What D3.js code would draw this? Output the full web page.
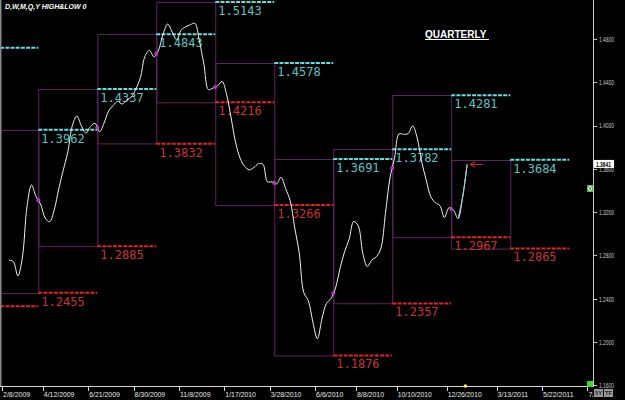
<!DOCTYPE html>
<html>
<head>
<meta charset="utf-8">
<script src="https://cdn.jsdelivr.net/npm/d3@7"></script>
<style>
  body { margin: 0; background: #000; }
  svg { display: block; }
</style>
</head>
<body>
<div id="chart"></div>
<script>
// weekly closes, first week starts 2/15/2009
const firstWeek = "2009-02-15";
const closes = [
  1.2758, 1.2742, 1.2610, 1.2785, 1.3248, 1.3451, 1.3343, 1.3275, 1.3146, 1.3112,
  1.3220, 1.3414, 1.3589, 1.3756, 1.4000, 1.4088, 1.3996, 1.3931, 1.3992, 1.4021,
  1.3943, 1.4024, 1.4135, 1.4186, 1.4224, 1.4199, 1.4236, 1.4264, 1.4338, 1.4443,
  1.4639, 1.4695, 1.4635, 1.4698, 1.4846, 1.4938, 1.4864, 1.4793, 1.4885, 1.4912,
  1.4932, 1.4945, 1.4781, 1.4564, 1.4332, 1.4347, 1.4367, 1.4408, 1.4285, 1.4070,
  1.3839, 1.3697, 1.3622, 1.3592, 1.3612, 1.3647, 1.3643, 1.3480, 1.3480, 1.3461,
  1.3522, 1.3418, 1.3307, 1.3057, 1.2824, 1.2457, 1.2382, 1.2186, 1.2030, 1.2213,
  1.2356, 1.2402, 1.2500, 1.2681, 1.2835, 1.2950, 1.3114, 1.3074, 1.2822, 1.2698,
  1.2758, 1.2788, 1.2867, 1.3188, 1.3517, 1.3700, 1.3924, 1.3919, 1.3926, 1.3997,
  1.3885, 1.3663, 1.3495, 1.3343, 1.3287, 1.3260, 1.3150, 1.3241, 1.3218, 1.3141,
  1.3336, 1.3641
];

// first weekly bar of each quarter, Q4 2008 .. Q3 2011
const quarterStarts = ["2008-10-05", "2009-01-04", "2009-04-05", "2009-07-05", "2009-10-04",
  "2010-01-03", "2010-04-04", "2010-07-04", "2010-10-03", "2011-01-02", "2011-04-03", "2011-07-03"];
const quarterHighs = [1.4719, 1.3962, 1.4337, 1.4843, 1.5143, 1.4578, 1.3691, 1.3782, 1.4281, 1.3684];
const quarterLows  = [1.2330, 1.2455, 1.2885, 1.3832, 1.4216, 1.3266, 1.1876, 1.2357, 1.2967, 1.2865];

const dateTicks = ["2/8/2009", "4/12/2009", "6/21/2009", "8/30/2009", "11/8/2009", "1/17/2010",
  "3/28/2010", "6/6/2010", "8/8/2010", "10/10/2010", "12/26/2010", "3/13/2011", "5/22/2011", "7/31/2011"];
const priceTicks = [1.16, 1.20, 1.24, 1.28, 1.32, 1.36, 1.40, 1.44, 1.48];
const lastPrice = 1.3641;

const width = 625, height = 400;
const plotRight = 593, plotBottom = 387;

const parseIso = d3.timeParse("%Y-%m-%d");
const parseUs = d3.timeParse("%m/%d/%Y");

const start = parseIso(firstWeek);
const dates = closes.map((c, i) => d3.timeWeek.offset(start, i));
const qDates = quarterStarts.map(parseIso);

const x = d3.scaleTime()
  .domain([parseUs("2/8/2009"), parseUs("5/22/2011")])
  .range([2, 542]);
const y = d3.scaleLinear().domain([1.16, 1.48]).range([385.3, 39]);
const hw = (x(d3.timeWeek.offset(start, 1)) - x(start)) / 2;

const svg = d3.select("#chart").append("svg")
  .attr("width", width).attr("height", height)
  .style("background", "#000");

svg.append("defs").append("clipPath").attr("id", "plot")
  .append("rect").attr("x", 0).attr("y", 0).attr("width", plotRight).attr("height", plotBottom);

const plot = svg.append("g").attr("clip-path", "url(#plot)");

// quarter boxes
const quarters = quarterHighs.map((h, i) => ({ i, high: h, low: quarterLows[i] }));
plot.selectAll("rect.box")
  .data(quarters)
  .enter().append("rect")
  .attr("class", "box")
  .attr("x", d => x(qDates[d.i]) + 0.5)
  .attr("y", d => Math.round(y(d.high)) + 0.5)
  .attr("width", d => x(qDates[d.i + 1]) - x(qDates[d.i]))
  .attr("height", d => y(d.low) - y(d.high))
  .attr("fill", "none")
  .attr("stroke", "#5e2462")
  .attr("stroke-width", 1);

// previous quarter high/low levels
const levels = [];
quarters.forEach(d => {
  levels.push({ i: d.i, v: d.high, color: "#62dede", text: "#5fc2c2" });
  levels.push({ i: d.i, v: d.low, color: "#e02424", text: "#c83434" });
});

plot.selectAll("line.level")
  .data(levels)
  .enter().append("line")
  .attr("class", "level")
  .attr("x1", d => x(qDates[d.i + 1]))
  .attr("x2", d => x(qDates[d.i + 2]))
  .attr("y1", d => y(d.v))
  .attr("y2", d => y(d.v))
  .attr("stroke", d => d.color)
  .attr("stroke-width", 2)
  .attr("stroke-dasharray", "4,1.2");

// labels only where their quarter is on screen
plot.selectAll("text.level")
  .data(levels.filter(d => x(qDates[d.i + 1]) > 0))
  .enter().append("text")
  .attr("class", "level")
  .attr("x", d => x(qDates[d.i + 1]) + 3)
  .attr("y", d => y(d.v) + 13)
  .attr("fill", d => d.text)
  .attr("font-family", "DejaVu Sans Mono, monospace")
  .attr("font-size", "12px")
  .text(d => d.v.toFixed(4));

// price line
const line = d3.line()
  .x((d, i) => x(dates[i]) + hw)
  .y(d => y(d))
  .curve(d3.curveCatmullRom.alpha(0.5));

plot.append("path")
  .datum(closes)
  .attr("d", line)
  .attr("fill", "none")
  .attr("stroke", "#f0f0f0")
  .attr("stroke-width", 1);

// last leg drawn in cyan
const n = closes.length;
const tail = d3.line()
  .x(d => x(dates[d]) + hw)
  .y(d => y(closes[d]))
  .curve(d3.curveCatmullRom.alpha(0.5));
plot.append("path")
  .datum([n - 3, n - 2, n - 1])
  .attr("d", tail)
  .attr("fill", "none")
  .attr("stroke", "#8fd6d6")
  .attr("stroke-width", 1);

// quarter start dots on the line
const dots = qDates.map(q => {
  const k = dates.findIndex(d => +d === +q);
  return k > 0 ? { q, v: (closes[k - 1] + closes[k]) / 2 } : null;
}).filter(d => d);
plot.selectAll("circle.qdot")
  .data(dots)
  .enter().append("circle")
  .attr("cx", d => x(d.q))
  .attr("cy", d => y(d.v))
  .attr("r", 2)
  .attr("fill", "#b03ab8");

// red arrow pointing at last close
const ax = x(dates[n - 1]) + hw + 3, ay = y(lastPrice);
plot.append("path")
  .attr("d", `M${ax},${ay}H${ax + 13}M${ax},${ay}l5,-3M${ax},${ay}l5,3`)
  .attr("stroke", "#d63030")
  .attr("fill", "none")
  .attr("stroke-width", 1);

// titles
svg.append("text")
  .attr("x", 5).attr("y", 9)
  .attr("fill", "#fff")
  .attr("font-family", "Liberation Sans, Arial, sans-serif")
  .attr("font-size", "7px")
  .attr("font-weight", "bold")
  .attr("font-style", "italic")
  .text("D,W,M,Q,Y HIGH&LOW 0");

svg.append("text")
  .attr("x", 425).attr("y", 37.5)
  .attr("fill", "#fff")
  .attr("font-family", "Liberation Sans, Arial, sans-serif")
  .attr("font-size", "10px")
  .attr("font-weight", "bold")
  .text("QUARTERLY");
svg.append("line")
  .attr("x1", 425).attr("x2", 489).attr("y1", 39.5).attr("y2", 39.5)
  .attr("stroke", "#fff").attr("stroke-width", 1);

// left edge strip
svg.append("rect").attr("x", 0).attr("y", 0).attr("width", 1.5).attr("height", plotBottom)
  .attr("fill", "#8a8a8a");

// right price axis
const yAxis = svg.append("g");
yAxis.append("line")
  .attr("x1", plotRight + 0.5).attr("x2", plotRight + 0.5)
  .attr("y1", 0).attr("y2", plotBottom)
  .attr("stroke", "#c8c8c8");
yAxis.selectAll("line.tick")
  .data(priceTicks)
  .enter().append("line")
  .attr("x1", plotRight).attr("x2", plotRight + 4)
  .attr("y1", d => Math.round(y(d)) + 0.5)
  .attr("y2", d => Math.round(y(d)) + 0.5)
  .attr("stroke", "#c8c8c8");
yAxis.selectAll("text.tick")
  .data(priceTicks)
  .enter().append("text")
  .attr("x", plotRight + 6)
  .attr("y", d => y(d) + 2.8)
  .attr("fill", "#c8c8c8")
  .attr("font-family", "Liberation Sans, Arial, sans-serif")
  .attr("font-size", "7.5px")
  .attr("textLength", 15)
  .attr("lengthAdjust", "spacingAndGlyphs")
  .text(d => d.toFixed(4));

// last price tag
const tagY = y(lastPrice);
svg.append("rect")
  .attr("x", plotRight + 1).attr("y", tagY - 4.5)
  .attr("width", 20).attr("height", 8)
  .attr("fill", "#fff");
svg.append("text")
  .attr("x", plotRight + 3).attr("y", tagY + 2.3)
  .attr("fill", "#000")
  .attr("font-family", "Liberation Sans, Arial, sans-serif")
  .attr("font-size", "7.5px")
  .attr("font-weight", "bold")
  .attr("textLength", 15)
  .attr("lengthAdjust", "spacingAndGlyphs")
  .text(lastPrice.toFixed(4));

// small marker box on the axis
svg.append("rect")
  .attr("x", 587.5).attr("y", 185.5).attr("width", 5).attr("height", 6)
  .attr("fill", "#fff").attr("stroke", "#3ccc3c");
svg.append("path")
  .attr("d", "M588,186L592,191M592,186L588,191")
  .attr("stroke", "#333").attr("stroke-width", 0.7);

// bottom date axis
const xAxis = svg.append("g");
xAxis.append("line")
  .attr("x1", 0).attr("x2", plotRight)
  .attr("y1", plotBottom - 0.5).attr("y2", plotBottom - 0.5)
  .attr("stroke", "#d8d8d8");
const tickDates = dateTicks.map(parseUs);
xAxis.selectAll("line.tick")
  .data(tickDates)
  .enter().append("line")
  .attr("x1", d => Math.round(x(d)) + 0.5)
  .attr("x2", d => Math.round(x(d)) + 0.5)
  .attr("y1", plotBottom).attr("y2", plotBottom + 4)
  .attr("stroke", "#d8d8d8");
svg.append("clipPath").attr("id", "xlab")
  .append("rect").attr("x", 0).attr("y", plotBottom).attr("width", plotRight).attr("height", 13);
xAxis.append("g").attr("clip-path", "url(#xlab)")
  .selectAll("text")
  .data(dateTicks)
  .enter().append("text")
  .attr("x", d => x(parseUs(d)) + 1)
  .attr("y", 397)
  .attr("fill", "#e8e8e8")
  .attr("font-family", "Liberation Sans, Arial, sans-serif")
  .attr("font-size", "8px")
  .attr("textLength", d => d.length * 3.4)
  .attr("lengthAdjust", "spacingAndGlyphs")
  .text(d => d);

// current bar mark and corner widgets
svg.append("rect")
  .attr("x", x(dates[n - 1]) - 1).attr("y", plotBottom - 2.5)
  .attr("width", 3).attr("height", 3).attr("fill", "#ffee66");
svg.append("rect")
  .attr("x", 587).attr("y", 381).attr("width", 6).attr("height", 6).attr("fill", "#2fe02f");
const btns = ["5Y", "TF"];
svg.selectAll("g.btn")
  .data(btns)
  .enter().append("g")
  .attr("transform", (d, i) => `translate(${594 + i * 10},389)`)
  .each(function (d) {
    const g = d3.select(this);
    g.append("rect").attr("width", 9).attr("height", 8).attr("fill", "#9a9a9a");
    g.append("text").attr("x", 4.5).attr("y", 6.3)
      .attr("text-anchor", "middle")
      .attr("font-family", "Liberation Sans, Arial, sans-serif")
      .attr("font-size", "6px").attr("font-weight", "bold")
      .attr("textLength", 7)
      .attr("lengthAdjust", "spacingAndGlyphs")
      .attr("fill", "#222").text(d);
  });
</script>
</body>
</html>
